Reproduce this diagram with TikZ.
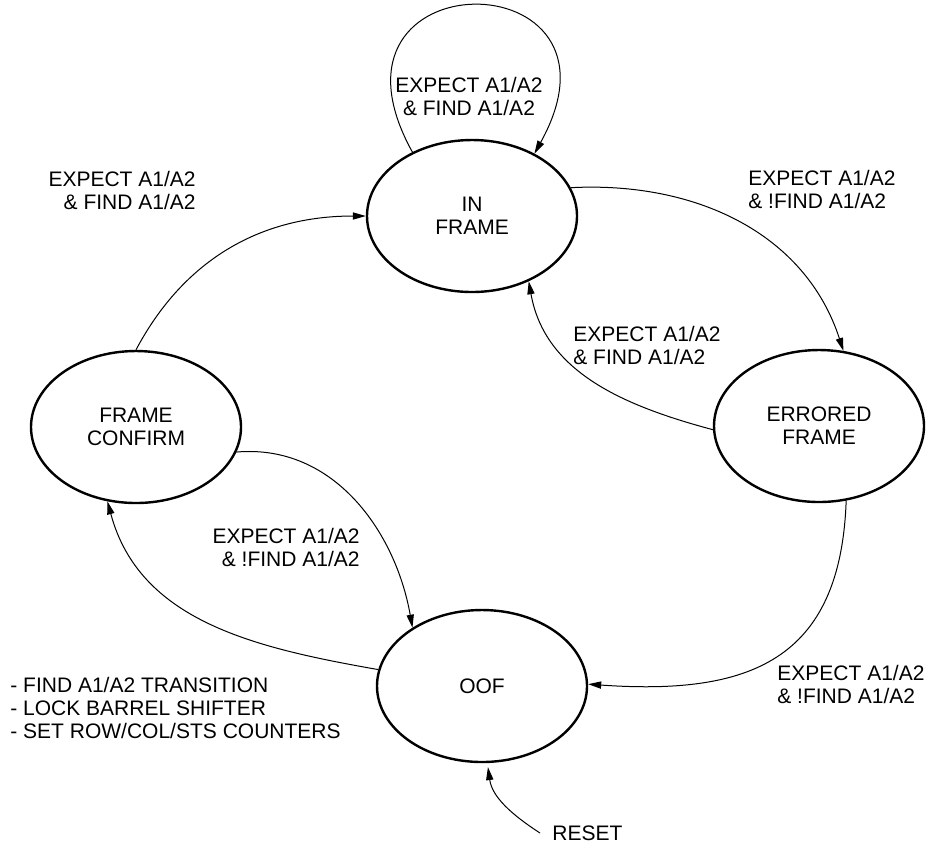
\documentclass[tikz,border=0pt]{standalone}
\usepackage{fontspec}
\setmainfont{Liberation Sans}
\usetikzlibrary{shapes.geometric,arrows.meta}
\tikzset{
	statebox/.style={draw, ellipse, line width=1.2pt, minimum width=105pt, minimum height=76pt, align=center, inner sep=0pt},
	trans/.style={line width=0.5pt, -{Triangle[length=6.5pt,width=3.6pt]}},
	lbl/.style={inner sep=0pt}
}

\begin{document}
\begin{tikzpicture}[x=0.5pt,y=0.5pt,font=\fontsize{10.5}{11.5}\selectfont]
				\useasboundingbox (0,0) rectangle (929,-843);
				
				\node[statebox] (inframe) at (472,-216) {IN\\FRAME};
				\node[statebox] (errored) at (819,-426) {ERRORED\\FRAME};
				\node[statebox] (confirm) at (136,-427) {FRAME\\CONFIRM};
				\node[statebox] (oof) at (482,-686) {OOF};
				
				\node[lbl, align=center] (loopcond) at (469,-96) {EXPECT A1/A2\\\& FIND A1/A2};
				\node[lbl, align=right, anchor=east] (confirmcond) at (196,-190) {EXPECT A1/A2\\\& FIND A1/A2};
				\node[lbl, align=left, anchor=west] (errcond) at (748,-189) {EXPECT A1/A2\\\& !FIND A1/A2};
				\node[lbl, align=left, anchor=west] (backcond) at (573,-345) {EXPECT A1/A2\\\& FIND A1/A2};
				\node[lbl, align=right, anchor=east] (losecond) at (360,-547) {EXPECT A1/A2\\\& !FIND A1/A2};
				\node[lbl, align=left, anchor=west] (oofcond) at (777,-684) {EXPECT A1/A2\\\& !FIND A1/A2};
				\node[lbl, align=left, anchor=west] (actions) at (10,-708) {- FIND A1/A2 TRANSITION\\- LOCK BARREL SHIFTER\\- SET ROW/COL/STS COUNTERS};
				\node[lbl, anchor=west] (reset) at (552,-833) {RESET};
				
				\draw[trans] (inframe.133) to[out=119,in=61,looseness=4.7] (inframe.45);
				\draw[trans] (inframe.16) to[out=3,in=108] (errored.72);
				\draw[trans] (errored.182) to[out=165,in=-80] (inframe.-49);
				\draw[trans] (errored.-70) to[out=-92,in=-4,looseness=1.3] (oof.1);
				\draw[trans] (confirm.-14) to[out=5,in=100] (oof.140);
				\draw[trans] (oof.171) to[out=170,in=-75] (confirm.249);
				\draw[trans] (confirm.90) to[out=62,in=180] (inframe.180);
				\draw[trans, shorten >=2pt] ([xshift=-6pt]reset.west) to[out=147,in=-82] (oof.-86);
\end{tikzpicture}
\end{document}
